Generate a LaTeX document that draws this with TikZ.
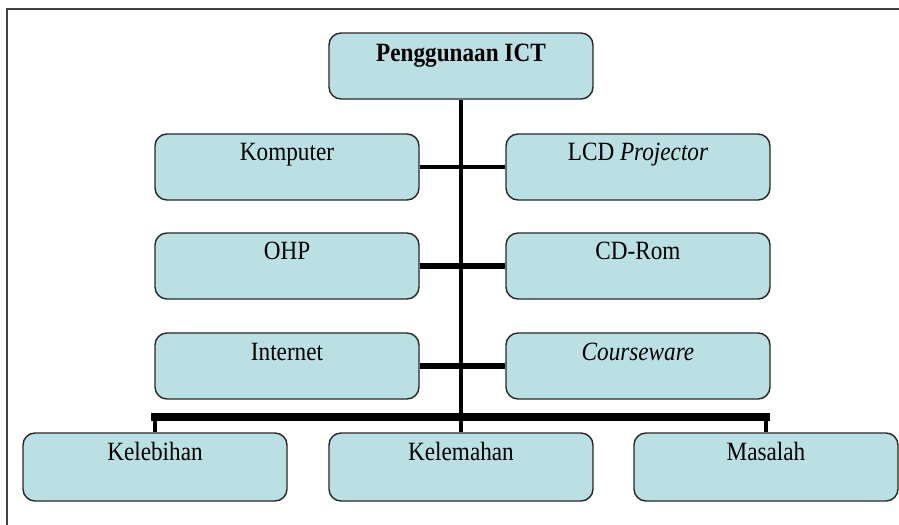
\documentclass[tikz,border=0pt]{standalone}
\usepackage{fontspec}
\setmainfont{Liberation Serif}[FakeStretch=0.88]
\definecolor{boxfill}{RGB}{187,224,227}
\definecolor{boxline}{RGB}{40,40,40}
\tikzset{
	box/.style={draw=boxline, line width=0.8pt, fill=boxfill, rounded corners=2.4mm,
		minimum width=52.8mm, inner sep=0pt, text height=5.4mm, text depth=7.8mm,
		font=\fontsize{15}{18}\selectfont},
	link/.style={line width=#1, black},
}
\begin{document}
\begin{tikzpicture}[x=0.2mm, y=-0.2mm]
	\useasboundingbox (0,0) rectangle (899,525);
	\draw [line width=1pt, black!75] (7,525) -- (7,9) -- (899,9);

	\node [box, text height=5.8mm, text depth=7.4mm] (ict) at (461,66) {\textbf{Penggunaan ICT}};
	\node [box] (komputer) at (287,167) {Komputer};
	\node [box] (lcd) at (638,167) {LCD \textit{Projector}};
	\node [box] (ohp) at (287,266) {OHP};
	\node [box] (cdrom) at (638,266) {CD-Rom};
	\node [box] (internet) at (287,366) {Internet};
	\node [box] (courseware) at (638,366) {\textit{Courseware}};
	\node [box, text depth=8.2mm] (kelebihan) at (155,467) {Kelebihan};
	\node [box, text depth=8.2mm] (kelemahan) at (461,467) {Kelemahan};
	\node [box, text depth=8.2mm] (masalah) at (766,467) {Masalah};

	\coordinate (bar) at (461,417);

	\draw [link=2pt] (ict) -- (kelemahan);
	\draw [link=2pt] (komputer) -- (lcd);
	\draw [link=3pt] (ohp) -- (cdrom);
	\draw [link=3.6pt] (internet) -- (courseware);
	\draw [link=2.4pt] (kelebihan) -- (kelebihan.north |- bar);
	\draw [link=2.4pt] (masalah) -- (masalah.north |- bar);
	\draw [link=4.2pt, line cap=rect] (kelebihan.north |- bar) -- (masalah.north |- bar);
\end{tikzpicture}
\end{document}
